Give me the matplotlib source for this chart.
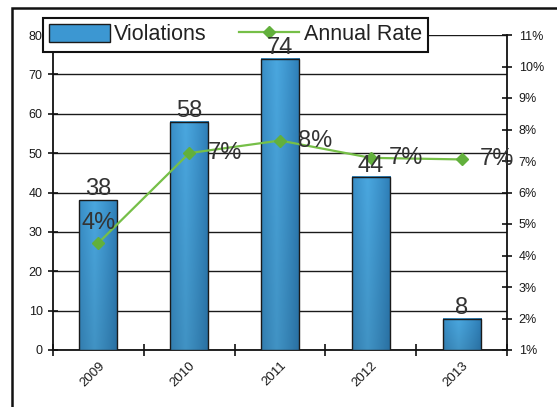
import matplotlib.pyplot as plt
from matplotlib.patches import Rectangle
from matplotlib.colors import to_rgb
import numpy as np

plt.rcParams['font.family'] = ['Liberation Sans', 'DejaVu Sans']

years = ['2009', '2010', '2011', '2012', '2013']
violations = [38, 58, 74, 44, 8]
annual_rate = [4.4, 7.25, 7.65, 7.1, 7.05]
rate_labels = ['4%', '7%', '8%', '7%', '7%']

W, H = 557, 407
fig = plt.figure(figsize=(W / 100, H / 100), dpi=100)
ax = fig.add_axes([53 / W, 1 - 350 / H, (507 - 53) / W, (350 - 35) / H])
ax2 = ax.twinx()

# outer chart frame (clipped by figure edge, like the scan)
fig.patches.append(Rectangle((12 / W, -0.1), 1.2, 1 - 8 / H + 0.1, transform=fig.transFigure,
                             fill=False, edgecolor='#111111', linewidth=1.8))

x = np.arange(len(years))
bars = ax.bar(x, violations, width=0.42, color='#3c97d2', edgecolor='#1a1a1a',
              linewidth=1.0, zorder=4, label='Violations')

# shaded fill for each bar (light in the middle, darker at edges and bottom)
c_edge = np.array(to_rgb('#2c7bb4'))
c_mid = np.array(to_rgb('#4aa7df'))
u = np.linspace(0, 1, 40)
prof = np.clip(1 - np.abs(u - 0.4) / 0.6, 0, 1) ** 0.8
grad = c_edge[None, None, :] + (c_mid - c_edge)[None, None, :] * prof[None, :, None]
shade = np.linspace(1.0, 0.88, 60)[:, None, None]
grad = np.clip(grad * shade, 0, 1)
for b in bars:
    ax.imshow(grad, extent=(b.get_x(), b.get_x() + b.get_width(), 0, b.get_height()),
              origin='upper', aspect='auto', zorder=3, interpolation='bilinear')
    b.set_facecolor('none')

ax.set_xlim(-0.5, len(years) - 0.5)
ax.set_ylim(0, 80)
ax.set_yticks(range(0, 81, 10))
ax.grid(axis='y', color='#1a1a1a', linewidth=1.0, zorder=0)
ax.set_axisbelow(True)

ax.set_xticks(np.arange(-0.5, len(years) + 0.5, 1.0))
ax.set_xticklabels([])
ax.set_xticks(x, minor=True)
ax.set_xticklabels(years, minor=True, rotation=45, ha='right', va='top',
                   rotation_mode='anchor', fontsize=9.5, color='#1a1a1a')
ax.tick_params(axis='x', which='major', direction='inout', length=8, width=1.2, color='#111111')
ax.tick_params(axis='x', which='minor', length=0, pad=7)
ax.tick_params(axis='y', direction='inout', length=7, width=1.2, color='#111111',
               labelsize=9, labelcolor='#1a1a1a', pad=4)

line, = ax2.plot(x, annual_rate, color='#76bf48', linewidth=1.6, marker='D',
                 markersize=6.5, markerfacecolor='#62b03c', markeredgecolor='#62b03c',
                 zorder=5, label='Annual Rate')
ax2.set_ylim(1, 11)
ax2.set_yticks(range(1, 12))
ax2.set_yticklabels([f'{v}%' for v in range(1, 12)])
ax2.tick_params(axis='y', direction='inout', length=7, width=1.2, color='#111111',
                labelsize=9, labelcolor='#1a1a1a', pad=5)

# bar value labels drawn on ax2 so they sit above the legend
for b, v in zip(bars, violations):
    ax2.annotate(str(v), (b.get_x() + b.get_width() / 2, v), xycoords=ax.transData,
                 xytext=(0, 0), textcoords='offset points', ha='center', va='bottom',
                 fontsize=17, color='#333333', zorder=10)

for i, (v, lab) in enumerate(zip(annual_rate, rate_labels)):
    if i == 0:
        ax2.annotate(lab, (x[i], v), xytext=(0, 14), textcoords='offset points',
                     ha='center', va='center', fontsize=17, color='#333333', zorder=10)
    else:
        ax2.annotate(lab, (x[i], v), xytext=(13, 0), textcoords='offset points',
                     ha='left', va='center', fontsize=17, color='#333333', zorder=10)

for a in (ax, ax2):
    for s in a.spines.values():
        s.set_visible(False)
ax.spines['left'].set_visible(True)
ax.spines['bottom'].set_visible(True)
ax2.spines['right'].set_visible(True)
for s in (ax.spines['left'], ax.spines['bottom'], ax2.spines['right']):
    s.set_color('#111111')
    s.set_linewidth(1.3)

leg_bar = Rectangle((0, 0), 1, 1, facecolor='#3c97d2', edgecolor='#1a1a1a', linewidth=1.0)
leg = ax2.legend([leg_bar, line], ['Violations', 'Annual Rate'], ncol=2,
                 loc='upper left', bbox_to_anchor=(43 / W, 1 - 18 / H),
                 bbox_transform=fig.transFigure, borderaxespad=0,
                 fontsize=15.5, handlelength=2.8, handleheight=0.85, columnspacing=1.5,
                 handletextpad=0.2, borderpad=0.3, frameon=True, fancybox=False,
                 framealpha=1)
leg.get_frame().set_edgecolor('#111111')
leg.get_frame().set_linewidth(1.5)
leg.set_zorder(6)
for t in leg.get_texts():
    t.set_color('#222222')

fig.savefig('out.png', dpi=100)
